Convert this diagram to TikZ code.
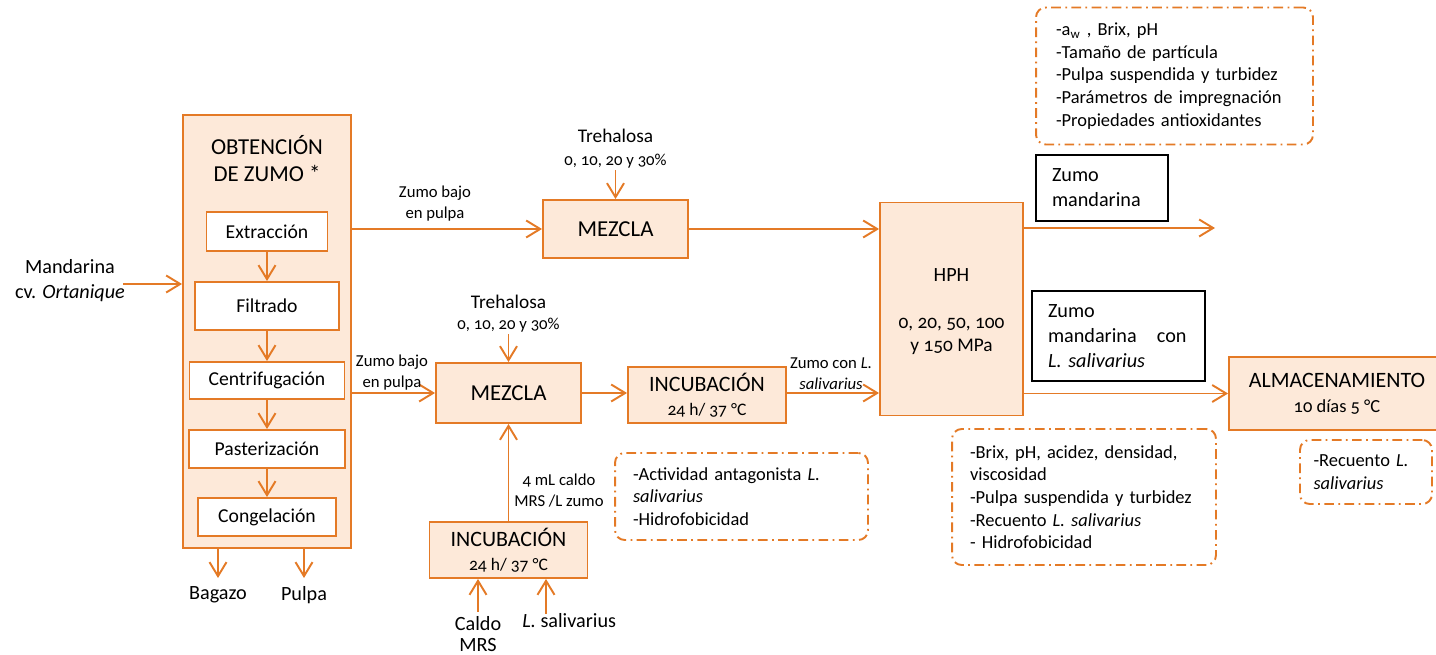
\documentclass[tikz,border=0pt]{standalone}
\usepackage{fontspec}
\setmainfont{Carlito}[Numbers=OldStyle]
\usetikzlibrary{arrows.meta}

\definecolor{naranja}{RGB}{228,122,38}
\definecolor{melocoton}{RGB}{253,233,217}
\newcommand{\fz}[2]{\fontsize{#1}{#2}\selectfont}

\tikzset{
  proceso/.style={draw=naranja, fill=melocoton, line width=1.1pt, inner sep=0pt, align=center},
  paso/.style={draw=naranja, fill=white, line width=1.1pt, inner sep=0pt, font=\fz{11.2}{13}},
  nota/.style={draw=naranja, line width=1.1pt, dash pattern=on 5.5pt off 2.5pt on 1pt off 2.5pt,
    rounded corners=5.5pt, align=left, inner xsep=0.36cm, inner ysep=0pt, font=\fz{10.5}{12.9}},
  salida/.style={draw=black, line width=0.9pt, align=left, inner xsep=0.32cm, inner ysep=0pt, font=\fz{11.5}{14.3}},
  flujo/.style={draw=naranja, line width=1.1pt, -{Straight Barb[length=2.8mm,width=3.4mm]}},
  etiqueta/.style={align=center, inner sep=1pt, font=\fz{9.5}{12}},
  texto/.style={align=center, inner sep=1pt, font=\fz{11.5}{14.2}},
}

\begin{document}
\begin{tikzpicture}[x=0.02cm, y=-0.02cm]
  \useasboundingbox (0,0) rectangle (1436,655);

  % Obtencion de zumo
  \node[proceso, minimum width=3.36cm, minimum height=8.66cm] (obt) at (267,331.5) {};
  \node[align=center, inner sep=0pt, font=\fz{13}{15.3}] (obttit) at (267,158.5) {OBTENCIÓN\\DE ZUMO *};
  \node[paso, minimum width=2.42cm, minimum height=0.78cm] (ext) at (267,231.5) {Extracción};
  \node[paso, minimum width=2.88cm, minimum height=0.96cm] (fil) at (267,306) {Filtrado};
  \node[paso, minimum width=3.10cm, minimum height=0.74cm] (cen) at (267,380.5) {Centrifugación};
  \node[paso, minimum width=3.12cm, minimum height=0.76cm] (pas) at (267,449) {Pasterización};
  \node[paso, minimum width=2.76cm, minimum height=0.76cm] (con) at (267,517) {Congelación};
  \draw[flujo] (ext) -- (fil);
  \draw[flujo] (fil) -- (cen);
  \draw[flujo] (cen) -- (pas);
  \draw[flujo] (pas) -- (con);

  % Entrada y subproductos
  \node[texto] (mand) at (70,280.5) {Mandarina\\cv. \textit{Ortanique}};
  \coordinate (mandout) at (123,284);
  \draw[flujo] (mandout) -- (mandout -| obt.west);
  \node[texto, anchor=north, inner ysep=4.5pt] (bagazo) at (218,578) {Bagazo};
  \node[texto, anchor=north, inner ysep=4.5pt] (pulpa) at (304,578) {Pulpa};
  \draw[flujo] (bagazo.north |- obt.south) -- (bagazo.north);
  \draw[flujo] (pulpa.north |- obt.south) -- (pulpa.north);

  % Linea superior: zumo de mandarina
  \node[proceso, minimum width=2.9cm, minimum height=1.16cm, font=\fz{13}{15}] (mez1) at (615.5,229) {MEZCLA};
  \node[inner sep=1pt, font=\fz{11}{13}] (treh1) at (615.5,136) {Trehalosa};
  \node[inner sep=1pt, font=\fz{9.5}{11}] (treh1p) at (615.5,161) {0, 10, 20 y 30\%};
  \draw[flujo] (treh1p.south) -- (mez1.north);
  \draw[flujo] (mez1.west -| obt.east) -- (mez1.west);
  \node[etiqueta] (zb1) at (435,204) {Zumo bajo\\en pulpa};

  % HPH
  \node[proceso, minimum width=2.86cm, minimum height=4.26cm] (hph) at (951.5,309) {};
  \node[inner sep=0pt, font=\fz{11.5}{13}] (hphtit) at (951.5,275) {HPH};
  \node[align=center, inner sep=0pt, font=\fz{11}{13}] (hphp) at (951.5,336.5) {0, 20, 50, 100\\y 150 MPa};
  \draw[flujo] (mez1.east) -- (mez1.east -| hph.west);

  % Salida zumo mandarina
  \coordinate (zumoout) at (1215,228);
  \draw[flujo] (zumoout -| hph.east) -- (zumoout);
  \node[salida, text width=2.0cm, minimum height=1.32cm] (zm) at (1102,188) {Zumo\\mandarina};
  \node[nota, inner xsep=0.4cm, text width=4.74cm, minimum height=2.74cm] (nota1) at (1174.5,76)
    {-a\textsubscript{w} , Brix, pH\\-Tamaño de partícula\\-Pulpa suspendida y turbidez\\-Parámetros de impregnación\\-Propiedades antioxidantes};

  % Linea inferior: zumo con L. salivarius
  \node[proceso, minimum width=2.9cm, minimum height=1.2cm, font=\fz{13}{15}] (mez2) at (508.5,393) {MEZCLA};
  \node[inner sep=1pt, font=\fz{11}{13}] (treh2) at (508.5,302) {Trehalosa};
  \node[inner sep=1pt, font=\fz{9.5}{11}] (treh2p) at (508.5,325) {0, 10, 20 y 30\%};
  \draw[flujo] (treh2p.south) -- (mez2.north);
  \draw[flujo] (mez2.west -| obt.east) -- (mez2.west);
  \node[etiqueta] (zb2) at (392,373) {Zumo bajo\\en pulpa};

  \node[proceso, minimum width=3.16cm, minimum height=1.12cm, font=\fz{12.5}{13.6}] (inc1) at (707,395)
    {INCUBACIÓN\\{\fz{10}{12}24 h/ 37 °C}};
  \draw[flujo] (mez2.east) -- (mez2.east -| inc1.west);
  \draw[flujo] (mez2.east -| inc1.east) -- (mez2.east -| hph.west);
  \node[etiqueta] (zcl) at (831,373.5) {Zumo con \textit{L.}\\\textit{salivarius}};
  \node[nota, text width=4.34cm, minimum height=1.74cm] (nota2) at (741.5,496.5)
    {-Actividad antagonista \textit{L.}\\\textit{salivarius}\\-Hidrofobicidad};

  % Incubacion del inoculo
  \node[proceso, minimum width=3.16cm, minimum height=1.12cm, font=\fz{12.5}{13.6}] (inc2) at (508.5,550)
    {INCUBACIÓN\\{\fz{10}{12}24 h/ 37 °C}};
  \draw[flujo] (inc2.north) -- (mez2.south);
  \node[etiqueta] (mrs) at (559,490.5) {4 mL caldo\\MRS /L zumo};
  \node[texto, anchor=north, inner sep=0pt, font=\fz{11.5}{12.2}] (caldo) at (478,616) {Caldo\\MRS};
  \coordinate (caldoin) at (478,612);
  \draw[flujo] (caldoin) -- (caldoin |- inc2.south);
  \node[texto, anchor=north west, inner sep=0pt] (lsal) at (522,613) {\textit{L.} salivarius};
  \coordinate (lsalin) at (546,614);
  \draw[flujo] (lsalin) -- (lsalin |- inc2.south);

  % Almacenamiento
  \node[proceso, minimum width=4.32cm, minimum height=1.46cm, font=\fz{12.5}{14.2}] (alm) at (1337,393.5)
    {ALMACENAMIENTO\\{\fz{10.5}{12}10 días 5 °C}};
  \draw[flujo] (hph.east |- alm.west) -- (alm.west);
  \node[salida, text width=2.82cm, minimum height=1.8cm] (zml) at (1118.5,336)
    {Zumo\\mandarina\quad con\\\textit{L. salivarius}};
  \node[nota, text width=4.56cm, minimum height=2.72cm] (nota3) at (1084,497)
    {-Brix, pH, acidez, densidad,\\viscosidad\\-Pulpa suspendida y turbidez\\-Recuento \textit{L. salivarius}\\- Hidrofobicidad};
  \node[nota, inner xsep=0.27cm, text width=2.1cm, minimum height=1.28cm] (nota4) at (1366,472)
    {-Recuento \textit{L.}\\\textit{salivarius}};
\end{tikzpicture}
\end{document}
